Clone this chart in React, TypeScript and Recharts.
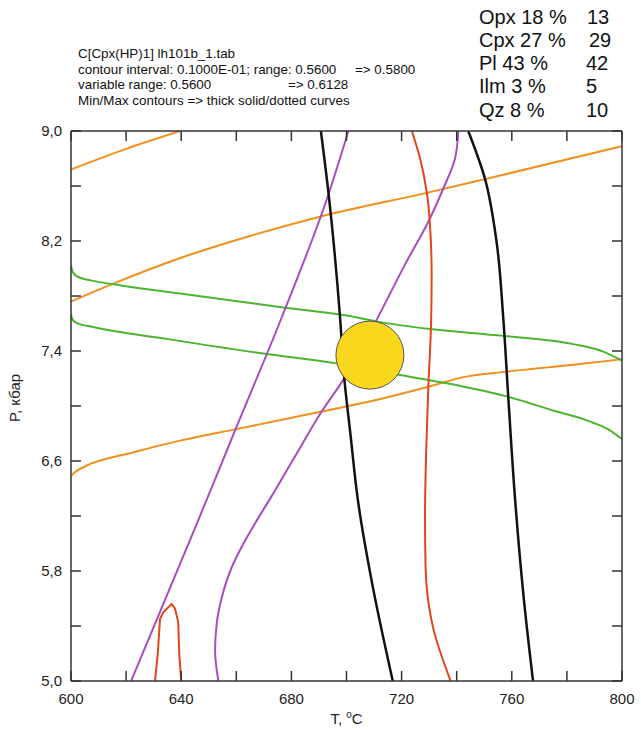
import React from 'react';
import { LineChart, Line, XAxis, YAxis, ReferenceDot } from 'recharts';

const xTicks = [600, 620, 640, 660, 680, 700, 720, 740, 760, 780, 800];
const xLabelTicks = [600, 640, 680, 720, 760, 800];
const yTicks = [5, 5.4, 5.8, 6.2, 6.6, 7, 7.4, 7.8, 8.2, 8.6, 9];
const yLabelMap: Record<string, string> = { '5.0': '5,0', '5.8': '5,8', '6.6': '6,6', '7.4': '7,4', '8.2': '8,2', '9.0': '9,0' };

const headerTitle = 'C[Cpx(HP)1] lh101b_1.tab';
const headerContour = 'contour interval: 0.1000E-01; range: 0.5600';
const headerContourEnd = '=> 0.5800';
const headerVar = 'variable range: 0.5600';
const headerVarEnd = '=> 0.6128';
const headerMinMax = 'Min/Max contours => thick solid/dotted curves';

const phaseNames = ['Opx 18 %', 'Cpx 27 %', 'Pl 43 %', 'Ilm 3 %', 'Qz 8 %'];
const phaseValues = ['13', '29', '42', '5', '10'];
const phaseValueX = [587, 589, 586, 586, 586];

const orangeTop = [
  { T: 600, P: 8.72 }, { T: 620, P: 8.87 }, { T: 639.6, P: 9.0 },
];
const orangeMid = [
  { T: 600, P: 7.76 }, { T: 615.4, P: 7.89 }, { T: 640.2, P: 8.08 }, { T: 665.6, P: 8.24 },
  { T: 691, P: 8.38 }, { T: 729.1, P: 8.55 }, { T: 750.3, P: 8.65 }, { T: 800, P: 8.89 },
];
const orangeLow = [
  { T: 600, P: 6.49 }, { T: 601.5, P: 6.52 }, { T: 605, P: 6.56 }, { T: 622, P: 6.66 },
  { T: 640, P: 6.75 }, { T: 659.5, P: 6.83 }, { T: 691, P: 6.96 }, { T: 710, P: 7.04 },
  { T: 729.7, P: 7.14 }, { T: 742.4, P: 7.21 }, { T: 758.1, P: 7.25 }, { T: 782.3, P: 7.3 },
  { T: 800, P: 7.34 },
];
const greenUp = [
  { T: 600, P: 8.02 }, { T: 600.5, P: 7.98 }, { T: 602, P: 7.945 }, { T: 608, P: 7.91 },
  { T: 615.4, P: 7.885 }, { T: 646.2, P: 7.8 }, { T: 677.7, P: 7.715 }, { T: 699.5, P: 7.66 },
  { T: 712.2, P: 7.61 }, { T: 730.3, P: 7.56 }, { T: 756.9, P: 7.51 }, { T: 782.3, P: 7.45 },
  { T: 793.2, P: 7.395 }, { T: 800, P: 7.33 },
];
const greenLow = [
  { T: 600, P: 7.67 }, { T: 600.5, P: 7.63 }, { T: 602, P: 7.605 }, { T: 608, P: 7.575 },
  { T: 634.1, P: 7.49 }, { T: 670.4, P: 7.38 }, { T: 696.4, P: 7.31 }, { T: 719.4, P: 7.225 },
  { T: 736.4, P: 7.165 }, { T: 758.1, P: 7.07 }, { T: 776.3, P: 6.96 }, { T: 788, P: 6.89 },
  { T: 795, P: 6.83 }, { T: 800, P: 6.76 },
];
const blackLeft = [
  { T: 690.7, P: 9.0 }, { T: 693.4, P: 8.56 }, { T: 697.6, P: 7.66 }, { T: 699.2, P: 7.2 },
  { T: 701.4, P: 6.8 }, { T: 704.1, P: 6.32 }, { T: 709.3, P: 5.71 }, { T: 716.8, P: 5.0 },
];
const blackRight = [
  { T: 744.2, P: 9.0 }, { T: 750.3, P: 8.65 }, { T: 754.5, P: 8.19 }, { T: 756.9, P: 7.64 },
  { T: 758.7, P: 7.07 }, { T: 761.2, P: 6.32 }, { T: 764.4, P: 5.59 }, { T: 767.7, P: 5.0 },
];
const redRight = [
  { T: 723.7, P: 9.0 }, { T: 726.7, P: 8.8 }, { T: 729.1, P: 8.56 }, { T: 730.3, P: 8.32 },
  { T: 730.9, P: 7.95 }, { T: 730.7, P: 7.6 }, { T: 729.7, P: 7.14 }, { T: 728.9, P: 6.66 },
  { T: 728.5, P: 6.2 }, { T: 728.7, P: 5.83 }, { T: 731.4, P: 5.39 }, { T: 737.8, P: 5.0 },
];
const redLoop = [
  { T: 630.5, P: 5.0 }, { T: 631.5, P: 5.2 }, { T: 632.3, P: 5.45 }, { T: 633.5, P: 5.5 },
  { T: 636.5, P: 5.56 }, { T: 637.7, P: 5.53 }, { T: 638.9, P: 5.43 }, { T: 639.3, P: 5.2 },
  { T: 640, P: 5.0 },
];
const purpleLeft = [
  { T: 700.7, P: 9.0 }, { T: 692.8, P: 8.5 }, { T: 676, P: 7.62 }, { T: 659.5, P: 6.82 },
  { T: 645.8, P: 6.15 }, { T: 621.8, P: 5.0 },
];
const purpleRight = [
  { T: 740.6, P: 9.0 }, { T: 739.4, P: 8.8 }, { T: 735.1, P: 8.58 }, { T: 729.7, P: 8.34 },
  { T: 721.8, P: 8.05 }, { T: 711, P: 7.63 }, { T: 699.5, P: 7.21 }, { T: 691, P: 6.96 },
  { T: 681.5, P: 6.64 }, { T: 672.4, P: 6.33 }, { T: 667.5, P: 6.17 }, { T: 662.6, P: 6.0 },
  { T: 658.2, P: 5.82 }, { T: 654.9, P: 5.62 }, { T: 652.9, P: 5.42 }, { T: 652.3, P: 5.22 },
  { T: 653.5, P: 5.0 },
];
const sample = { T: 708.5, P: 7.37 };

const ORANGE = '#F0901E';
const GREEN = '#4BB52F';
const PURPLE = '#A84CC0';
const RED = '#E2461B';
const BLACK = '#111111';
const AXIS = '#333333';
const FONT = '"Liberation Sans", Arial, sans-serif';

const xFmt = (v: number) => (xLabelTicks.includes(v) ? String(v) : '');
const yFmt = (v: number) => yLabelMap[v.toFixed(1)] ?? '';

const XTitle = (props: any) => {
  const vb = props.viewBox || { x: 71, width: 551, y: 681 };
  const cx = vb.x + vb.width / 2;
  return (
    <text x={cx} y={724} textAnchor="middle" fontSize={15} fontFamily={FONT} fill="#222">
      <tspan>T, </tspan>
      <tspan dy={-6} fontSize={10}>o</tspan>
      <tspan dy={6}>C</tspan>
    </text>
  );
};

const YTitle = () => (
  <text x={20} y={398} textAnchor="middle" fontSize={15} fontFamily={FONT} fill="#222" transform="rotate(-90 20 398)">
    P, кбар
  </text>
);

const curves = [
  { key: 'orangeTop', data: orangeTop, color: ORANGE, w: 2, t: 'monotoneX' },
  { key: 'orangeMid', data: orangeMid, color: ORANGE, w: 2, t: 'monotoneX' },
  { key: 'orangeLow', data: orangeLow, color: ORANGE, w: 2, t: 'monotoneX' },
  { key: 'greenUp', data: greenUp, color: GREEN, w: 2, t: 'monotoneX' },
  { key: 'greenLow', data: greenLow, color: GREEN, w: 2, t: 'monotoneX' },
  { key: 'purpleLeft', data: purpleLeft, color: PURPLE, w: 2, t: 'monotoneY' },
  { key: 'purpleRight', data: purpleRight, color: PURPLE, w: 2, t: 'monotoneY' },
  { key: 'redRight', data: redRight, color: RED, w: 2, t: 'monotoneY' },
  { key: 'redLoop', data: redLoop, color: RED, w: 2, t: 'linear' },
  { key: 'blackLeft', data: blackLeft, color: BLACK, w: 2.5, t: 'monotoneY' },
  { key: 'blackRight', data: blackRight, color: BLACK, w: 2.5, t: 'monotoneY' },
];

export default function App() {
  return (
    <div style={{ position: 'absolute', left: 0, top: 0, width: 641, height: 731, background: '#fff' }}>
      <svg width={641} height={731} style={{ position: 'absolute', left: 0, top: 0 }}>
        <g fontFamily={FONT} fontSize={13.4} fill="#111">
          <text x={78} y={58}>{headerTitle}</text>
          <text x={78} y={73.5}>{headerContour}</text>
          <text x={355} y={73.5}>{headerContourEnd}</text>
          <text x={78} y={89}>{headerVar}</text>
          <text x={288} y={89}>{headerVarEnd}</text>
          <text x={78} y={104.5}>{headerMinMax}</text>
        </g>
        <g fontFamily={FONT} fontSize={20} fill="#111">
          {phaseNames.map((n, i) => (
            <text key={n} x={479} y={23.5 + i * 23.3}>{n}</text>
          ))}
          {phaseValues.map((v, i) => (
            <text key={'v' + i} x={phaseValueX[i]} y={23.5 + i * 23.3}>{v}</text>
          ))}
        </g>
      </svg>
      <div style={{ position: 'absolute', left: 0, top: 0 }}>
        <LineChart width={641} height={731} margin={{ top: 121, right: 9, bottom: 20, left: 31 }}>
          <XAxis
            dataKey="T"
            type="number"
            domain={[600, 800]}
            allowDataOverflow
            ticks={xTicks}
            interval={0}
            tickFormatter={xFmt}
            tickSize={-10}
            tickMargin={22}
            height={30}
            stroke={AXIS}
            strokeWidth={1.5}
            tick={{ fontSize: 15, fontFamily: FONT, fill: '#222' }}
            label={{ content: XTitle }}
          />
          <XAxis
            xAxisId="top"
            orientation="top"
            dataKey="T"
            type="number"
            domain={[600, 800]}
            allowDataOverflow
            ticks={xTicks}
            interval={0}
            tickFormatter={() => ''}
            tickSize={-10}
            height={10}
            stroke={AXIS}
            strokeWidth={1.5}
          />
          <YAxis
            type="number"
            domain={[5, 9]}
            allowDataOverflow
            ticks={yTicks}
            interval={0}
            tickFormatter={yFmt}
            tickSize={-10}
            tickMargin={19}
            width={40}
            stroke={AXIS}
            strokeWidth={1.5}
            tick={{ fontSize: 15, fontFamily: FONT, fill: '#222' }}
            label={{ content: YTitle }}
          />
          <YAxis
            yAxisId="right"
            orientation="right"
            type="number"
            domain={[5, 9]}
            allowDataOverflow
            ticks={yTicks}
            interval={0}
            tickFormatter={() => ''}
            tickSize={-10}
            width={10}
            stroke={AXIS}
            strokeWidth={1.5}
          />
          {curves.map((c) => (
            <Line
              key={c.key}
              data={c.data}
              dataKey="P"
              type={c.t as any}
              stroke={c.color}
              strokeWidth={c.w}
              dot={false}
              activeDot={false}
              isAnimationActive={false}
            />
          ))}
          <ReferenceDot x={sample.T} y={sample.P} r={34} fill="#F9D71C" stroke="#555" strokeWidth={1} />
        </LineChart>
      </div>
    </div>
  );
}
